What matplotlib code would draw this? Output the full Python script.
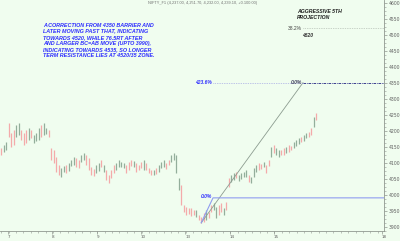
import numpy as np
import matplotlib.pyplot as plt
from matplotlib.ticker import MultipleLocator, FixedLocator

# intraday bars (high, low, direction)
highs = [4146, 4155, 4165, 4224, 4193, 4202, 4218, 4224, 4202, 4193,
         4202, 4208, 4202, 4187, 4193, 4208, 4218, 4224, 4208, 4202,
         4146, 4140, 4118, 4093, 4083, 4090, 4093, 4099, 4108, 4118,
         4115, 4108, 4124, 4130, 4124, 4115, 4087, 4080, 4093, 4099,
         4108, 4093, 4077, 4062, 4077, 4093, 4099, 4108, 4102, 4099,
         4093, 4102, 4108, 4105, 4099, 4093, 4102, 4108, 4099, 4083,
         4077, 4077, 4083, 4093, 4102, 4108, 4099, 4108, 4124, 4130,
         4124, 4052, 4030, 3968, 3962, 3958, 3958, 3952, 3952, 3937,
         3930, 3943, 3952, 3946, 3968, 3974, 3962, 3968, 3974, 3958,
         3977, 4052, 4062, 4068, 4071, 4062, 4068, 4071, 4077, 4062,
         4055, 4083, 4093, 4099, 4096, 4102, 4093, 4108, 4149, 4155,
         4146, 4140, 4140, 4146, 4149, 4155, 4152, 4165, 4171, 4177,
         4180, 4187, 4193, 4196, 4208, 4243, 4255]
lows = [4124, 4133, 4140, 4180, 4149, 4155, 4180, 4187, 4171, 4155,
        4162, 4171, 4177, 4162, 4168, 4171, 4180, 4187, 4190, 4180,
        4108, 4099, 4071, 4062, 4055, 4071, 4068, 4074, 4090, 4093,
        4087, 4083, 4102, 4108, 4093, 4077, 4062, 4058, 4068, 4074,
        4087, 4071, 4046, 4037, 4052, 4068, 4077, 4087, 4087, 4083,
        4068, 4077, 4090, 4087, 4071, 4077, 4083, 4077, 4077, 4068,
        4062, 4062, 4065, 4071, 4083, 4087, 4080, 4093, 4102, 4108,
        4068, 4015, 3968, 3946, 3937, 3940, 3933, 3937, 3930, 3921,
        3912, 3915, 3921, 3927, 3946, 3952, 3927, 3937, 3946, 3937,
        3952, 4024, 4040, 4046, 4052, 4043, 4049, 4055, 4055, 4040,
        4037, 4055, 4071, 4077, 4080, 4087, 4068, 4090, 4118, 4130,
        4124, 4118, 4124, 4124, 4130, 4133, 4140, 4146, 4152, 4158,
        4165, 4168, 4177, 4180, 4187, 4212, 4233]
direction = ("duuddduuddduduuuduud"
             "dddduuduuudduudddduu"
             "dudddduuuudddudddudd"
             "duduuudduuuuddddddud"
             "ddudduuddudduuduuuud"
             "uuuddudduduuddudduuu"
             "duudduduudduuuduudu"
             "duuduuu")[:len(highs)]

day_labels = ['7', '8', '9', '10', '13', '14', '15', '18']
day_starts = [2.7, 20.4, 38.1, 55.9, 73.6, 91.3, 109.0, 152.3]

# fib projection annotations (bar index, price)
proj_x = [80, 120.7]
proj_y = [3912, 4350]
ret_x = [80, 84.7]
ret_y = [3912, 3990]
level_0 = 3990
level_4236 = 4350
level_382 = 4520

note = ("A CORRECTION FROM 4350 BARRIER AND\n"
        "LATER MOVING PAST THAT, INDICATING\n"
        "TOWARDS 4520, WHILE 76.5RT AFTER\n"
        "AND LARGER BC=AB MOVE (UPTO 3990),\n"
        "INDICATING TOWARDS 4535, SO LONGER\n"
        "TERM RESISTANCE LIES AT 4520/35 ZONE.")

bg = '#f0fdef'
red = '#f4aaaa'
green = '#93ae9b'
blue = '#2f2fff'

fig = plt.figure(figsize=(4.0, 2.41), dpi=100, facecolor=bg)
ax = fig.add_axes([0.0, 0.04, 0.96, 0.96], facecolor=bg)

x = np.arange(len(highs))
cols = [green if d == 'u' else red for d in direction]
ax.vlines(x, lows, highs, colors=cols, linewidth=0.9)

xmax = 153.1
ax.set_xlim(-0.5, xmax)
ax.set_ylim(3885.3, 4608.4)

# projection lines
ax.plot(proj_x, proj_y, color='#8c9c90', linewidth=0.6)
ax.plot(ret_x + [xmax], ret_y + [level_0], color='#8f9cf0', linewidth=0.8)
ax.plot([84.7, 120.7], [level_4236] * 2, color='#8a8ae0', linewidth=0.5,
        linestyle=(0, (1, 1.5)))
ax.plot([120.7, xmax], [level_4236] * 2, color='#202080', linewidth=0.6,
        linestyle=(0, (3, 1, 1, 1)))
ax.plot([120.7, xmax], [level_382] * 2, color='#a0a8a0', linewidth=0.5,
        linestyle=(0, (1, 1.5)))

tfont = dict(family='Liberation Sans', fontweight='bold', fontstyle='italic')
ax.text(84.3, level_4236, '423.6%', color=blue, fontsize=3.6, ha='right',
        va='center', **tfont)
ax.text(120.3, level_4236, '0.0%', color='#404060', fontsize=3.6, ha='right',
        va='center', **tfont)
ax.text(84.3, level_0 + 4, '0.0%', color=blue, fontsize=3.6, ha='right',
        va='center', **tfont)
ax.text(120.3, level_382, '38.2%', color='#404040', fontsize=3.6, ha='right',
        va='center', family='Liberation Sans')
ax.text(120.5, level_382 - 22, '4520', color='#303030', fontsize=3.6,
        ha='left', va='center', **tfont)
ax.text(118.3, 4563, 'AGGRESSIVE 5TH\nPROJECTION', color='#202020',
        fontsize=3.7, ha='left', va='center', linespacing=1.25, **tfont)
ax.text(16.8, 4538, note, color=blue, fontsize=3.85, ha='left', va='top',
        linespacing=1.27, **tfont)
ax.text(80.5, 4598, 'NIFTY_F1 (4,237.00, 4,251.70, 4,232.00, 4,239.10, +0.100.00)',
        color='#707070', fontsize=2.8, ha='center', va='center',
        family='Liberation Sans')

# axes styling
for s in ['top', 'left']:
    ax.spines[s].set_visible(False)
for s in ['right', 'bottom']:
    ax.spines[s].set_color('#909890')
    ax.spines[s].set_linewidth(0.6)
ax.yaxis.tick_right()
ax.yaxis.set_major_locator(FixedLocator(np.arange(3900, 4601, 50)))
ax.yaxis.set_minor_locator(MultipleLocator(12.5))
ax.xaxis.set_major_locator(FixedLocator(day_starts))
ax.set_xticklabels(day_labels)
ax.xaxis.set_minor_locator(MultipleLocator(17.72 / 6))
ax.tick_params(axis='both', which='major', labelsize=3.3, colors='#909890',
               labelcolor='#606060', length=2.5, width=0.5, pad=0.8)
ax.tick_params(axis='x', which='major', labelsize=3.0, pad=0.3, length=2.0)
ax.tick_params(axis='both', which='minor', colors='#909890', length=1.5,
               width=0.4)
for lab in ax.get_xticklabels():
    lab.set_ha('left')

fig.savefig('out.png', dpi=100, facecolor=bg)
